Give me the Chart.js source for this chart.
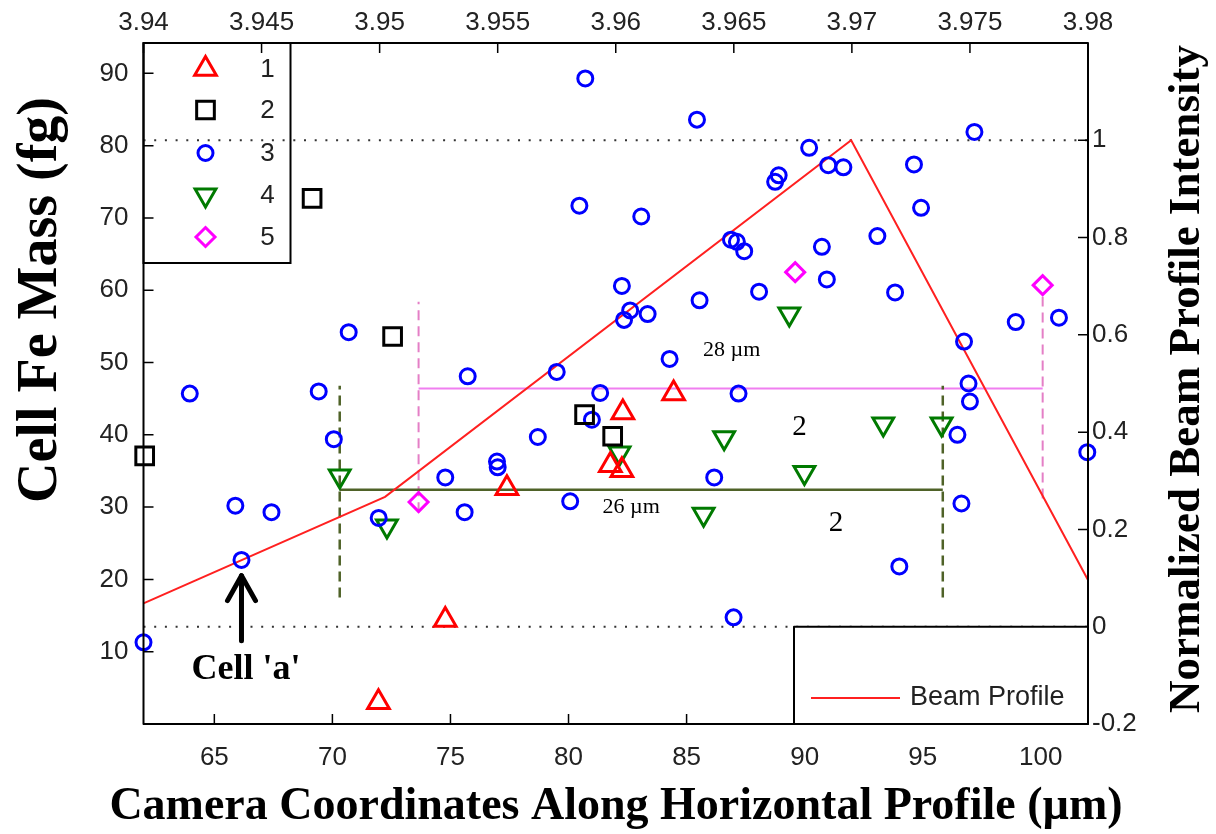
<!DOCTYPE html>
<html><head><meta charset="utf-8">
<script src="https://cdn.jsdelivr.net/npm/chart.js@4.4.1/dist/chart.umd.min.js"></script>
<style>html,body{margin:0;padding:0;background:#fff;}canvas{display:block;}</style>
</head><body>
<canvas id="c" width="1216" height="834"></canvas>
<script>
// ---------------- data ----------------
const xTicks = [65, 70, 75, 80, 85, 90, 95, 100];
const xTopTicks = [3.94, 3.945, 3.95, 3.955, 3.96, 3.965, 3.97, 3.975, 3.98];
const yTicks = [10, 20, 30, 40, 50, 60, 70, 80, 90];
const y2Ticks = [-0.2, 0, 0.2, 0.4, 0.6, 0.8, 1];

const seriesNames = ['1', '2', '3', '4', '5'];

const s1x = [84.45, 82.3, 81.77, 82.26, 77.39, 74.78, 71.95];
const s1y = [45.7, 43.1, 35.8, 35.1, 32.6, 14.4, 3.0];

const s2x = [69.14, 72.55, 62.05, 80.68, 81.87];
const s2y = [72.7, 53.6, 37.1, 42.8, 39.8];

const s3x = [80.71, 85.44, 88.75, 88.9, 80.46, 83.08, 86.88, 87.13, 87.44, 82.26,
             85.55, 88.07, 82.61, 82.35, 83.35, 90.19, 91.0, 91.64, 97.19, 94.63,
             94.93, 90.73, 93.08, 90.94, 93.83, 98.94, 100.77, 96.75, 96.94, 97.0,
             96.47, 96.64, 94.01, 101.97, 84.28, 81.34, 87.2, 80.99, 79.5, 75.73,
             78.7, 76.97, 77.0, 74.78, 75.6, 80.07, 86.17, 86.99, 63.96, 69.42,
             70.06, 70.69, 65.89, 67.42, 66.15, 71.96, 62.0];
const s3y = [89.3, 83.6, 75.0, 75.9, 71.7, 70.2, 67.0, 66.7, 65.4, 60.6,
             58.6, 59.8, 57.2, 55.9, 56.7, 79.7, 77.3, 77.0, 81.9, 77.4,
             71.4, 66.0, 67.5, 61.5, 59.7, 55.6, 56.2, 52.9, 47.1, 44.6,
             40.0, 30.5, 21.8, 37.6, 50.5, 45.8, 45.7, 42.1, 48.7, 48.1,
             39.7, 36.3, 35.5, 34.1, 29.3, 30.8, 34.1, 14.75, 45.7, 46.0,
             39.4, 54.2, 30.2, 29.3, 22.7, 28.5, 11.3];

const s4x = [70.31, 72.31, 82.16, 86.59, 85.72, 93.33, 95.8, 89.99, 89.35];
const s4y = [34.3, 27.4, 37.5, 39.6, 29.0, 41.5, 41.5, 34.8, 56.7];

const s5x = [73.65, 89.6, 100.08];
const s5y = [30.7, 62.5, 60.7];

const beamX = [62, 72.23, 91.97, 102];
const beamY = [0.048, 0.267, 1.0, 0.096];

// reference / span annotation lines (data coordinates)
const refLevels = [1, 0];                 // dotted levels on right axis
const span26X = [70.31, 95.85], span26Y = 32.4, span26Drop = [17.5, 46.8];
const span28X = [73.65, 100.08], span28Y = 46.4, span28DropL = [29.3, 58.4], span28DropR = [31.2, 59.1];

const notes = [
  {text: '28 µm', x: 86.91, y: 51.7, font: '22px "Liberation Serif"'},
  {text: '26 µm', x: 82.65, y: 30.0, font: '22px "Liberation Serif"'},
  {text: '2', x: 89.78, y: 41.05, font: '29px "Liberation Serif"'},
  {text: '2', x: 91.33, y: 27.7, font: '29px "Liberation Serif"'},
  {text: "Cell 'a'", x: 66.34, y: 7.5, font: 'bold 36px "Liberation Serif"'}
];
const arrowX = 66.15, arrowY = [11.5, 20.8];

// ---------------- helpers ----------------
const pts = (xs, ys) => xs.map((x, i) => ({x, y: ys[i]}));
const TICK_FONT = {family: '"Liberation Sans", Arial, sans-serif', size: 26};
const TICK_COLOR = '#222';

function scatterSet(label, xs, ys, color, style, r, rot) {
  return {
    type: 'scatter', label, data: pts(xs, ys), yAxisID: 'y',
    pointStyle: style, pointRadius: r, pointHoverRadius: r, pointRotation: rot || 0,
    pointBorderColor: color, pointBackgroundColor: 'rgba(0,0,0,0)', pointBorderWidth: 3,
    showLine: false, clip: false
  };
}
function lineSet(xs, ys, color, width, dash, axis) {
  return {
    type: 'line', data: pts(xs, ys), yAxisID: axis || 'y',
    borderColor: color, borderWidth: width, borderDash: dash || [],
    pointRadius: 0, fill: false, tension: 0, clip: false
  };
}

const olive = '#4f6228';
const pinkDash = '#e47fc6';
const violet = '#f07ef0';

const datasets = [
  scatterSet(seriesNames[0], s1x, s1y, '#ff0000', 'triangle', 12.5, 0),
  scatterSet(seriesNames[1], s2x, s2y, '#000000', 'rect', 12.5, 0),
  scatterSet(seriesNames[2], s3x, s3y, '#0000ff', 'circle', 7.5, 0),
  scatterSet(seriesNames[3], s4x, s4y, '#007a00', 'triangle', 12, 180),
  scatterSet(seriesNames[4], s5x, s5y, '#ff00ff', 'rectRot', 9.5, 0),
  lineSet(beamX, beamY, '#ff2020', 2, [], 'y2'),
  lineSet(span26X, [span26Y, span26Y], olive, 2.5),
  lineSet([span26X[0], span26X[0]], span26Drop, olive, 2.5, [10, 6]),
  lineSet([span26X[1], span26X[1]], span26Drop, olive, 2.5, [10, 6]),
  lineSet(span28X, [span28Y, span28Y], violet, 2),
  lineSet([span28X[0], span28X[0]], span28DropL, pinkDash, 2, [10, 6]),
  lineSet([span28X[1], span28X[1]], span28DropR, pinkDash, 2, [10, 6]),
  lineSet([62, 102], [refLevels[0], refLevels[0]], '#333', 2, [2, 8.7], 'y2'),
  lineSet([62, 102], [refLevels[1], refLevels[1]], '#333', 2, [2, 8.7], 'y2')
];

function drawMarker(ctx, style, x, y, r, color, rot) {
  ctx.save();
  ctx.strokeStyle = color; ctx.lineWidth = 3; ctx.beginPath();
  if (style === 'circle') ctx.arc(x, y, r, 0, Math.PI * 2);
  else if (style === 'rect') { const s = Math.SQRT1_2 * r; ctx.rect(x - s, y - s, 2 * s, 2 * s); }
  else if (style === 'triangle') {
    const d = rot ? -1 : 1;
    ctx.moveTo(x, y - d * r); ctx.lineTo(x + 0.866 * r, y + d * r / 2); ctx.lineTo(x - 0.866 * r, y + d * r / 2); ctx.closePath();
  } else if (style === 'rectRot') {
    ctx.moveTo(x, y - r); ctx.lineTo(x + r, y); ctx.lineTo(x, y + r); ctx.lineTo(x - r, y); ctx.closePath();
  }
  ctx.stroke(); ctx.restore();
}

const decor = {
  id: 'decor',
  beforeDatasetsDraw(chart) {
    const ctx = chart.ctx, a = chart.chartArea;
    // legend 1 (top-left)
    ctx.save();
    ctx.strokeStyle = '#000'; ctx.lineWidth = 2;
    ctx.strokeRect(a.left, a.top, 147, 220);
    ctx.font = '26px "Liberation Sans", Arial, sans-serif';
    ctx.fillStyle = TICK_COLOR; ctx.textAlign = 'center'; ctx.textBaseline = 'middle';
    const rows = [69, 110, 153, 195, 237];
    chart.data.datasets.slice(0, 5).forEach((ds, i) => {
      drawMarker(ctx, ds.pointStyle, a.left + 62, rows[i], ds.pointRadius, ds.pointBorderColor, ds.pointRotation);
      ctx.fillText(ds.label, a.left + 124, rows[i] + 1);
    });
    ctx.restore();
  },
  afterDatasetsDraw(chart) {
    const ctx = chart.ctx, a = chart.chartArea, sx = chart.scales.x, sy = chart.scales.y,
          sy2 = chart.scales.y2, st = chart.scales.x2;
    ctx.save();
    // annotation texts
    ctx.fillStyle = '#000'; ctx.textAlign = 'center'; ctx.textBaseline = 'middle';
    notes.forEach(n => { ctx.font = n.font; ctx.fillText(n.text, sx.getPixelForValue(n.x), sy.getPixelForValue(n.y)); });
    // arrow
    const ax = sx.getPixelForValue(arrowX), ay0 = sy.getPixelForValue(arrowY[0]), ay1 = sy.getPixelForValue(arrowY[1]);
    ctx.strokeStyle = '#000'; ctx.lineWidth = 5; ctx.lineCap = 'round'; ctx.lineJoin = 'round';
    ctx.beginPath(); ctx.moveTo(ax, ay0); ctx.lineTo(ax, ay1 + 2); ctx.stroke();
    ctx.beginPath(); ctx.moveTo(ax - 14, ay1 + 27); ctx.lineTo(ax, ay1 + 2); ctx.lineTo(ax + 14, ay1 + 27); ctx.stroke();
    ctx.lineCap = 'butt';
    // frame
    ctx.strokeStyle = '#000'; ctx.lineWidth = 2;
    ctx.strokeRect(a.left, a.top, a.right - a.left, a.bottom - a.top);
    // inward ticks
    ctx.lineWidth = 1.5; ctx.beginPath();
    xTicks.forEach(v => { const p = sx.getPixelForValue(v); ctx.moveTo(p, a.bottom); ctx.lineTo(p, a.bottom - 10); });
    xTopTicks.forEach(v => { const p = st.getPixelForValue(v); ctx.moveTo(p, a.top); ctx.lineTo(p, a.top + 10); });
    yTicks.forEach(v => { const p = sy.getPixelForValue(v); ctx.moveTo(a.left, p); ctx.lineTo(a.left + 10, p); });
    y2Ticks.forEach(v => { const p = sy2.getPixelForValue(v); ctx.moveTo(a.right, p); ctx.lineTo(a.right - 10, p); });
    ctx.stroke();
    // legend 2 (bottom-right)
    const lx = 794, ly = sy2.getPixelForValue(0);
    ctx.fillStyle = '#fff'; ctx.fillRect(lx, ly, a.right - lx, a.bottom - ly);
    ctx.strokeStyle = '#000'; ctx.lineWidth = 2; ctx.strokeRect(lx, ly, a.right - lx, a.bottom - ly);
    ctx.strokeStyle = '#ff2020'; ctx.lineWidth = 2;
    ctx.beginPath(); ctx.moveTo(lx + 17, 698); ctx.lineTo(lx + 106, 698); ctx.stroke();
    ctx.fillStyle = TICK_COLOR; ctx.font = '27px "Liberation Sans", Arial, sans-serif';
    ctx.textAlign = 'left'; ctx.textBaseline = 'middle';
    ctx.fillText('Beam Profile', lx + 116, 698);
    ctx.restore();
  },
  afterDraw(chart) {
    const ctx = chart.ctx;
    ctx.save();
    ctx.fillStyle = '#000'; ctx.textAlign = 'center'; ctx.textBaseline = 'middle';
    ctx.font = 'bold 46px "Liberation Serif", "Times New Roman", serif';
    ctx.fillText('Camera Coordinates Along Horizontal Profile (µm)', 616, 807);
    ctx.save(); ctx.translate(42, 300); ctx.rotate(-Math.PI / 2);
    ctx.font = 'bold 56px "Liberation Serif", "Times New Roman", serif';
    ctx.fillText('Cell Fe Mass (fg)', 0, 0); ctx.restore();
    ctx.save(); ctx.translate(1187, 379); ctx.rotate(-Math.PI / 2);
    ctx.font = 'bold 45px "Liberation Serif", "Times New Roman", serif';
    ctx.fillText('Normalized Beam Profile Intensity', 0, 0); ctx.restore();
    ctx.restore();
  }
};

const fmt = v => String(Number(v.toFixed(3)));
const setTicks = arr => s => { s.ticks = arr.map(v => ({value: v})); };

const chart = new Chart(document.getElementById('c'), {
  data: {datasets},
  options: {
    responsive: false, animation: false, devicePixelRatio: 1,
    layout: {padding: 0},
    plugins: {legend: {display: false}, tooltip: {enabled: false}},
    scales: {
      x: {
        type: 'linear', position: 'bottom', min: 62, max: 102,
        afterBuildTicks: setTicks(xTicks),
        afterFit: s => { s.height = 110; },
        grid: {display: false, drawTicks: false}, border: {display: false},
        ticks: {font: TICK_FONT, color: TICK_COLOR, padding: 18, maxRotation: 0, autoSkip: false, callback: fmt}
      },
      x2: {
        type: 'linear', position: 'top', min: 3.94, max: 3.98,
        afterBuildTicks: setTicks(xTopTicks),
        afterFit: s => { s.height = 43; },
        grid: {display: false, drawTicks: false}, border: {display: false},
        ticks: {font: TICK_FONT, color: TICK_COLOR, padding: 5, maxRotation: 0, autoSkip: false, callback: fmt}
      },
      y: {
        type: 'linear', position: 'left', min: 0, max: 94.2,
        afterBuildTicks: setTicks(yTicks),
        afterFit: s => { s.width = 143.5; },
        grid: {display: false, drawTicks: false}, border: {display: false},
        ticks: {font: TICK_FONT, color: TICK_COLOR, padding: 15, autoSkip: false, callback: fmt}
      },
      y2: {
        type: 'linear', position: 'right', min: -0.2, max: 1.2,
        afterBuildTicks: setTicks(y2Ticks),
        afterFit: s => { s.width = 128; },
        grid: {display: false, drawTicks: false}, border: {display: false},
        ticks: {font: TICK_FONT, color: TICK_COLOR, padding: 4, autoSkip: false, callback: v => String(Number(v.toFixed(1)))}
      }
    }
  },
  plugins: [decor]
});
</script>
</body></html>
